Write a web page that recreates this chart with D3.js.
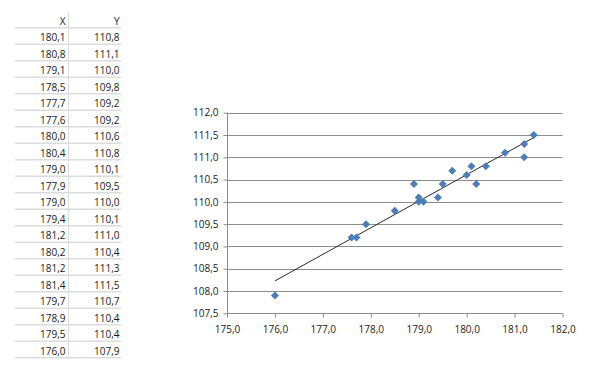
<!DOCTYPE html>
<html>
<head>
<meta charset="utf-8">
<script src="https://cdn.jsdelivr.net/npm/d3@7"></script>
<style>
  html, body { margin: 0; padding: 0; background: #fff; }
  svg { display: block; }
  text { font-family: "Open Sans", "Noto Sans", sans-serif; font-size: 10px; fill: #1a1a1a; }
</style>
</head>
<body>
<svg id="chart" width="609" height="367"></svg>
<script>
// ---- data ----
const headers = ["X", "Y"];
const xValues = [180.1, 180.8, 179.1, 178.5, 177.7, 177.6, 180.0, 180.4, 179.0, 177.9,
                 179.0, 179.4, 181.2, 180.2, 181.2, 181.4, 179.7, 178.9, 179.5, 176.0];
const yValues = [110.8, 111.1, 110.0, 109.8, 109.2, 109.2, 110.6, 110.8, 110.1, 109.5,
                 110.0, 110.1, 111.0, 110.4, 111.3, 111.5, 110.7, 110.4, 110.4, 107.9];
const xTicks = [175, 176, 177, 178, 179, 180, 181, 182];
const yTicks = [107.5, 108, 108.5, 109, 109.5, 110, 110.5, 111, 111.5, 112];

const fmt = v => d3.format(".1f")(v).replace(".", ",");

const svg = d3.select("#chart");

// ---- table ----
const table = svg.append("g");
const rowY0 = 20.5, rowH = 16.5;
const colRight = [65.5, 119.5];
const lineColor = "#dcdcdc";
// header
headers.forEach((h, i) => {
  table.append("text").attr("x", colRight[i]).attr("y", rowY0)
    .attr("text-anchor", "end").attr("dominant-baseline", "central").text(h);
});
// row separator lines
for (let r = 0; r <= xValues.length; r++) {
  const y = rowY0 + rowH / 2 + r * rowH - 1;
  table.append("line").attr("x1", 15).attr("x2", 121).attr("y1", y).attr("y2", y)
    .attr("stroke", lineColor).attr("stroke-width", 1.5);
}
table.append("line").attr("x1", 68.5).attr("x2", 68.5).attr("y1", 12)
  .attr("y2", rowY0 + rowH / 2 + xValues.length * rowH)
  .attr("stroke", lineColor).attr("stroke-width", 1);
xValues.forEach((xv, r) => {
  const y = rowY0 + (r + 1) * rowH;
  table.append("text").attr("x", colRight[0]).attr("y", y)
    .attr("text-anchor", "end").attr("dominant-baseline", "central").text(fmt(xv));
  table.append("text").attr("x", colRight[1]).attr("y", y)
    .attr("text-anchor", "end").attr("dominant-baseline", "central").text(fmt(yValues[r]));
});

// ---- chart ----
const x = d3.scaleLinear().domain([175, 182]).range([227, 562.5]);
const y = d3.scaleLinear().domain([107.5, 112]).range([313.3, 112.7]);
const gridColor = "#8c8c8c";

const g = svg.append("g");
// gridlines
g.selectAll("line.grid").data(yTicks.filter(t => t !== 107.5)).join("line")
  .attr("class", "grid")
  .attr("x1", x(175)).attr("x2", x(182))
  .attr("y1", d => Math.round(y(d)) + 0.5).attr("y2", d => Math.round(y(d)) + 0.5)
  .attr("stroke", gridColor).attr("stroke-width", 1);

// y axis
const yAxis = d3.axisLeft(y).tickValues(yTicks).tickFormat(fmt).tickSize(4).tickPadding(5);
const yg = g.append("g").attr("transform", `translate(${Math.round(x(175)) + 0.5},0)`).call(yAxis);
yg.select(".domain").attr("stroke", gridColor).attr("d", `M0,${y(112)}V${y(107.5)}`);
yg.selectAll(".tick line").attr("stroke", gridColor);
yg.selectAll(".tick text").style("font-family", "'Open Sans', sans-serif").style("font-size", "10px").attr("fill", "#1a1a1a");

// x axis
const xAxis = d3.axisBottom(x).tickValues(xTicks).tickFormat(fmt).tickSize(4).tickPadding(8);
const xg = g.append("g").attr("transform", `translate(0,${Math.round(y(107.5)) + 0.5})`).call(xAxis);
xg.select(".domain").attr("stroke", gridColor).attr("d", `M${x(175)},0H${x(182)}`);
xg.selectAll(".tick line").attr("stroke", gridColor);
xg.selectAll(".tick text").style("font-family", "'Open Sans', sans-serif").style("font-size", "10px").attr("fill", "#1a1a1a");

// linear trendline (least squares)
const n = xValues.length;
const mx = d3.mean(xValues), my = d3.mean(yValues);
let sxy = 0, sxx = 0;
for (let i = 0; i < n; i++) { sxy += (xValues[i] - mx) * (yValues[i] - my); sxx += (xValues[i] - mx) ** 2; }
const slope = sxy / sxx, intercept = my - slope * mx;
const [xmin, xmax] = d3.extent(xValues);
g.append("line")
  .attr("x1", x(xmin)).attr("y1", y(intercept + slope * xmin))
  .attr("x2", x(xmax)).attr("y2", y(intercept + slope * xmax))
  .attr("stroke", "#2a2a2a").attr("stroke-width", 1);

// markers
const r = 4;
g.selectAll("path.pt").data(xValues.map((xv, i) => [xv, yValues[i]])).join("path")
  .attr("class", "pt")
  .attr("d", d => {
    const cx = x(d[0]), cy = y(d[1]);
    return `M${cx},${cy - r}L${cx + r},${cy}L${cx},${cy + r}L${cx - r},${cy}Z`;
  })
  .attr("fill", "#4a7ebb");
</script>
</body>
</html>
